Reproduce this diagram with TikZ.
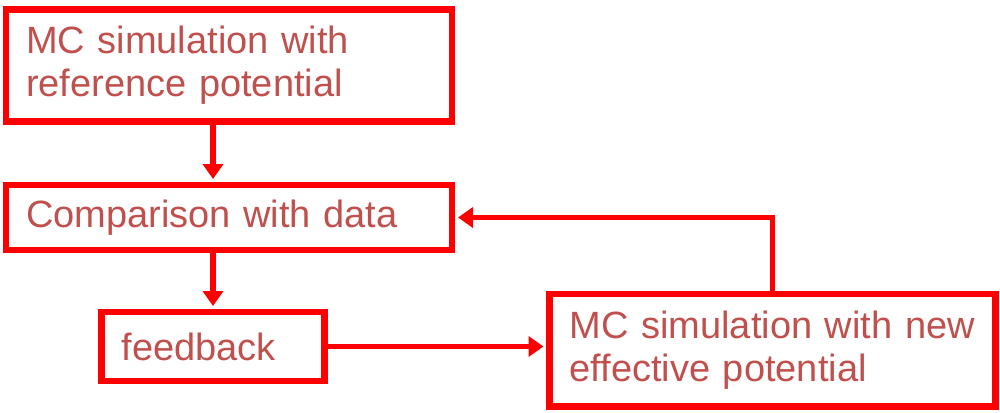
\documentclass[tikz,border=0pt]{standalone}
\usepackage{fontspec}
\setmainfont{Liberation Sans}
\usetikzlibrary{arrows.meta}
\definecolor{boxred}{RGB}{255,0,0}
\definecolor{txtred}{RGB}{192,80,77}

\begin{document}
\begin{tikzpicture}[x=0.5pt,y=-0.5pt,
  stepbox/.style={draw=boxred, line width=3.2pt, inner xsep=10pt, inner ysep=0pt,
    align=left, text=txtred, font=\fontsize{19}{21.5}\selectfont},
  flow/.style={draw=boxred, line width=2.8pt, shorten >=1.4pt,
    -{Triangle[width=10pt,length=7.5pt]}}]
    \useasboundingbox (0,0) rectangle (1000,412);
    % boxes
    \node[stepbox, text width=203pt, minimum height=56pt] (sim) at (229,65.5)
        {MC simulation with\\reference potential};
    \node[stepbox, text width=203pt, minimum height=32.5pt] (cmp) at (229,217.5)
        {Comparison with data};
    \node[stepbox, text width=91.5pt, minimum height=34.5pt] (fb) at (213,346.5)
        {feedback};
    \node[stepbox, text width=203pt, minimum height=56.25pt] (newsim) at (772.5,350.25)
        {MC simulation with new\\effective potential};
    % connectors
    \draw[flow] (sim.south -| fb.north) -- (cmp.north -| fb.north);
    \draw[flow] (cmp.south -| fb.north) -- (fb.north);
    \draw[flow] (fb.east) -- (fb.east -| newsim.west);
    \draw[flow] (newsim.north) |- (cmp.east);
\end{tikzpicture}
\end{document}
